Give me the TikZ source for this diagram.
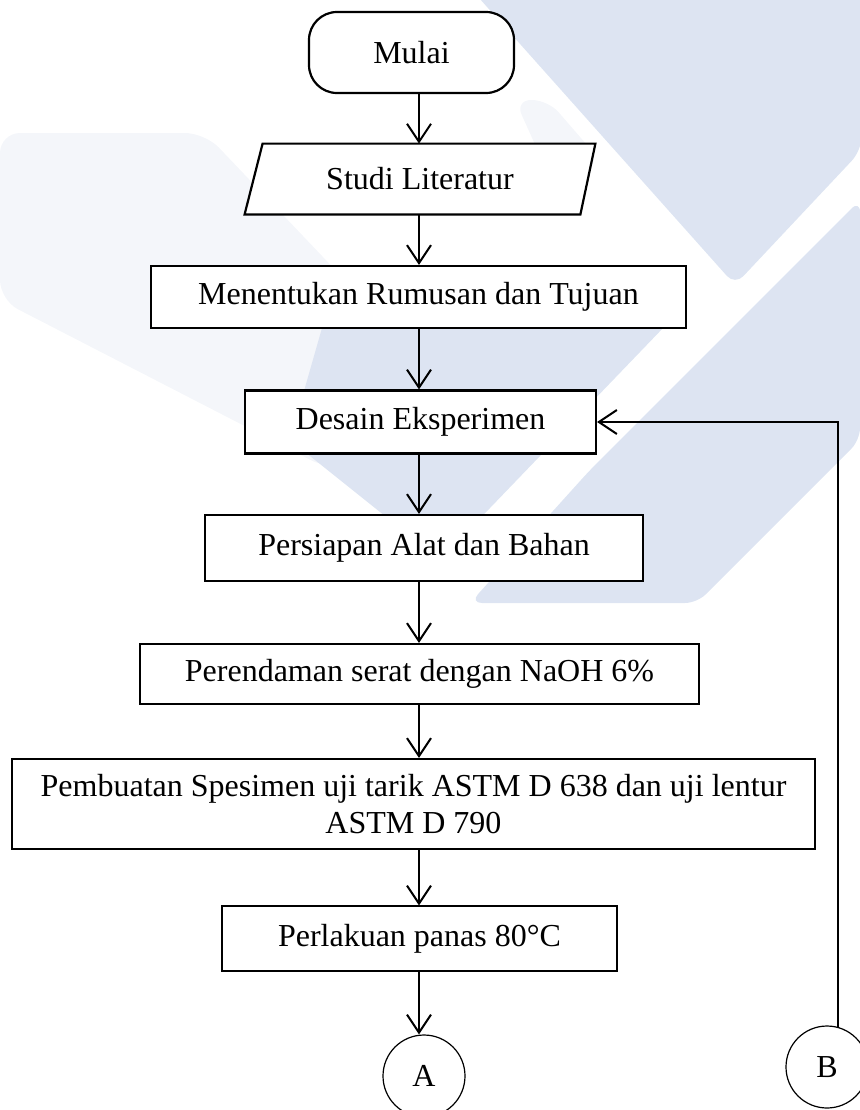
\documentclass[tikz,border=0pt]{standalone}
\usepackage{fontspec}
\setmainfont{Liberation Serif}
\usetikzlibrary{arrows.meta,backgrounds}
\definecolor{wmblue}{RGB}{221,228,242}
\definecolor{wmfaint}{RGB}{244,246,250}

\begin{document}
\begin{tikzpicture}[x=0.5pt,y=-0.5pt]
\tikzstyle{huruf}=[font=\fontsize{16}{18.5}\selectfont]
\tikzstyle{proses}=[rectangle,draw,line width=1.1pt,fill=white,inner sep=0pt,huruf]
\tikzstyle{tipis}=[proses,line width=0.6pt]
\tikzstyle{konektor}=[circle,draw,line width=0.6pt,fill=white,minimum size=41pt,inner sep=0pt,huruf]
\tikzstyle{panah}=[line width=1pt,-{Straight Barb[length=9pt,width=12pt]}]
\useasboundingbox (0,0) rectangle (860,1110);
\node[proses,rounded corners=14pt,minimum width=102.5pt,minimum height=40.5pt] (mulai) at (411.5,52.5) {Mulai};
\node[minimum width=175pt,minimum height=35pt,inner sep=0pt,huruf] (studi) at (420,179) {Studi Literatur};
\node[proses,minimum width=267.5pt,minimum height=31pt] (rumusan) at (418.5,297) {Menentukan Rumusan dan Tujuan};
\node[proses,minimum width=175.5pt,minimum height=31.5pt] (desain) at (420.5,422) {Desain Eksperimen};
\node[proses,minimum width=219pt,minimum height=33pt] (persiapan) at (424,548) {Persiapan Alat dan Bahan};
\node[proses,minimum width=279.5pt,minimum height=30pt] (perendaman) at (419.5,674) {Perendaman serat dengan NaOH 6\%};
\node[proses,minimum width=401.5pt,minimum height=45pt,align=center] (spesimen) at (413.5,804) {Pembuatan Spesimen uji tarik ASTM D 638 dan uji lentur\\ASTM D 790};
\node[tipis,minimum width=197.5pt,minimum height=32.5pt] (panas) at (419.5,938.5) {Perlakuan panas 80°C};
\node[konektor] (A) at (424,1076) {A};
\node[konektor] (B) at (827,1067) {B};
\begin{scope}[on background layer]
\fill[wmfaint,rounded corners=10pt] (0,133) -- (205,133) -- (440,380) -- (330,470) -- (0,300) -- cycle;
\fill[wmfaint,rounded corners=8pt] (515,100) -- (548,100) -- (600,160) -- (560,200) -- cycle;
\fill[wmblue,rounded corners=6pt] (463,-20) -- (880,-20) -- (860,152) -- (735,285) -- cycle;
\fill[wmblue,rounded corners=8pt] (330,300) -- (690,300) -- (440,560) -- (290,440) -- cycle;
\fill[wmblue,rounded corners=6pt] (590,470) -- (860,200) -- (860,440) -- (697,603) -- (470,603) -- cycle;
\draw[line width=1.1pt,fill=white] ([xshift=9pt]studi.north west) -- (studi.north east) -- ([xshift=-7.5pt]studi.south east) -- (studi.south west) -- cycle;
\end{scope}
\coordinate (poros) at (419,0);
\draw[panah] (mulai.south -| poros) -- (studi.north -| poros);
\draw[panah] (studi.south -| poros) -- (rumusan.north -| poros);
\draw[panah] (rumusan.south -| poros) -- (desain.north -| poros);
\draw[panah] (desain.south -| poros) -- (persiapan.north -| poros);
\draw[panah] (persiapan.south -| poros) -- (perendaman.north -| poros);
\draw[panah] (perendaman.south -| poros) -- (spesimen.north -| poros);
\draw[panah] (spesimen.south -| poros) -- (panas.north -| poros);
\draw[panah] (panas.south -| poros) -- (A.north -| poros);
\draw[panah] (B.75) |- (desain.east);
\end{tikzpicture}
\end{document}
